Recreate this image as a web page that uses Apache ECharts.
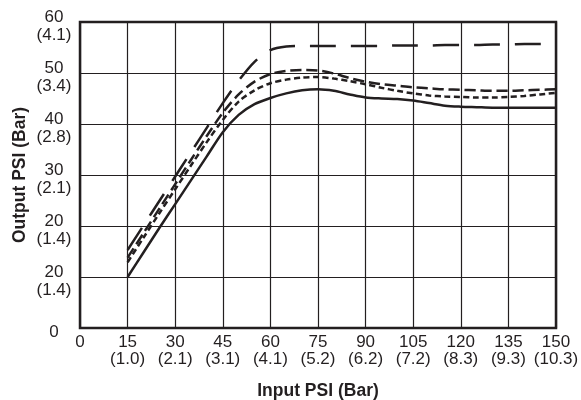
<!DOCTYPE html>
<html>
<head>
<meta charset="utf-8">
<script src="https://cdn.jsdelivr.net/npm/echarts@6/dist/echarts.min.js"></script>
<style>
html,body{margin:0;padding:0;background:#fff;}
#chart{width:581px;height:400px;}
</style>
</head>
<body>
<div id="chart"></div>
<script>
// Input pressure (PSI) sample points
var inputPsi = [15,20,25,30,35,40,45,50,55,60,65,70,75,80,85,90,95,100,105,110,115,120,125,130,135,140,145,150];
// Output pressure curves (PSI)
var solidCurve = [10,14.8,19.6,24.3,29,33.7,38.4,41.8,43.9,45.1,46,46.6,46.8,46.5,45.8,45.2,45,44.9,44.6,44.1,43.6,43.4,43.3,43.2,43.2,43.2,43.2,43.2];
var shortDashCurve = [12.9,17.7,22.5,27.2,31.9,36.5,40.8,44.4,46.6,48,48.7,49.1,49.2,48.9,48.4,47.8,47.1,46.5,46,45.6,45.4,45.3,45.2,45.2,45.3,45.5,45.8,46.1];
var mediumDashCurve = [13.8,18.6,23.4,28.2,33,37.7,42.2,45.8,48.3,49.8,50.4,50.6,50.5,49.9,49,48.3,47.8,47.5,47.2,47,46.8,46.7,46.6,46.5,46.5,46.6,46.7,46.8];
var longDashCurve = [15.3,20.1,24.9,29.7,34.5,39.3,44.1,48.5,52.2,54.5,55.2,55.3,55.3,55.3,55.3,55.3,55.3,55.4,55.4,55.4,55.5,55.5,55.5,55.6,55.6,55.7,55.7,55.8];
// Tick labels
var xTickLabels = ['0','15\n(1.0)','30\n(2.1)','45\n(3.1)','60\n(4.1)','75\n(5.2)','90\n(6.2)','105\n(7.2)','120\n(8.3)','135\n(9.3)','150\n(10.3)'];
var yTickLabels = ['0','20\n(1.4)','20\n(1.4)','30\n(2.1)','40\n(2.8)','50\n(3.4)','60\n(4.1)'];

function pairs(ys){ return inputPsi.map(function(x,i){ return [x, ys[i]]; }); }

var ink = '#231f20';
var font = 'Liberation Sans, Arial, Helvetica, sans-serif';

function mk(data, type, width){
  return {
    type:'line', data:pairs(data), smooth:0.3, symbol:'none', animation:false,
    lineStyle:{color:ink, width:width, type:type, cap:'butt'}
  };
}

var chart = echarts.init(document.getElementById('chart'), null, {renderer:'canvas'});
chart.setOption({
  animation:false,
  backgroundColor:'#fff',
  grid:{left:80, right:25, top:22, bottom:72, outerBoundsMode:'none', containLabel:false,
        show:true, borderColor:ink, borderWidth:2.5, backgroundColor:'transparent'},
  xAxis:{
    type:'value', min:0, max:150, interval:15,
    name:'Input PSI (Bar)', nameLocation:'middle', nameGap:54, nameMoveOverlap:false,
    nameTextStyle:{fontFamily:font, fontSize:17.5, fontWeight:'bold', color:ink},
    axisLine:{show:false}, axisTick:{show:false},
    splitLine:{show:true, lineStyle:{color:ink, width:1.2}},
    axisLabel:{
      formatter:function(v){ return xTickLabels[Math.round(v/15)]; },
      fontFamily:font, fontSize:17, lineHeight:17, color:ink, margin:6, align:'center',
      showMinLabel:true, showMaxLabel:true, hideOverlap:false
    }
  },
  yAxis:{
    type:'value', min:0, max:60, interval:10,
    name:'Output PSI (Bar)', nameLocation:'middle', nameGap:51, nameMoveOverlap:false,
    nameTextStyle:{fontFamily:font, fontSize:17.5, fontWeight:'bold', color:ink},
    axisLine:{show:false}, axisTick:{show:false},
    splitLine:{show:true, lineStyle:{color:ink, width:1.2}},
    axisLabel:{
      formatter:function(v){ return '{g| }\n' + yTickLabels[Math.round(v/10)]; },
      rich:{g:{fontSize:1, lineHeight:8}},
      fontFamily:font, fontSize:17, lineHeight:18, color:ink, margin:26, align:'center',
      showMinLabel:true, showMaxLabel:true, hideOverlap:false
    }
  },
  series:[
    mk(solidCurve, 'solid', 2.5),
    mk(shortDashCurve, [6,3.5], 2.5),
    mk(mediumDashCurve, [11,5], 2.5),
    mk(longDashCurve, [26,15], 2.5)
  ]
});
</script>
</body>
</html>
